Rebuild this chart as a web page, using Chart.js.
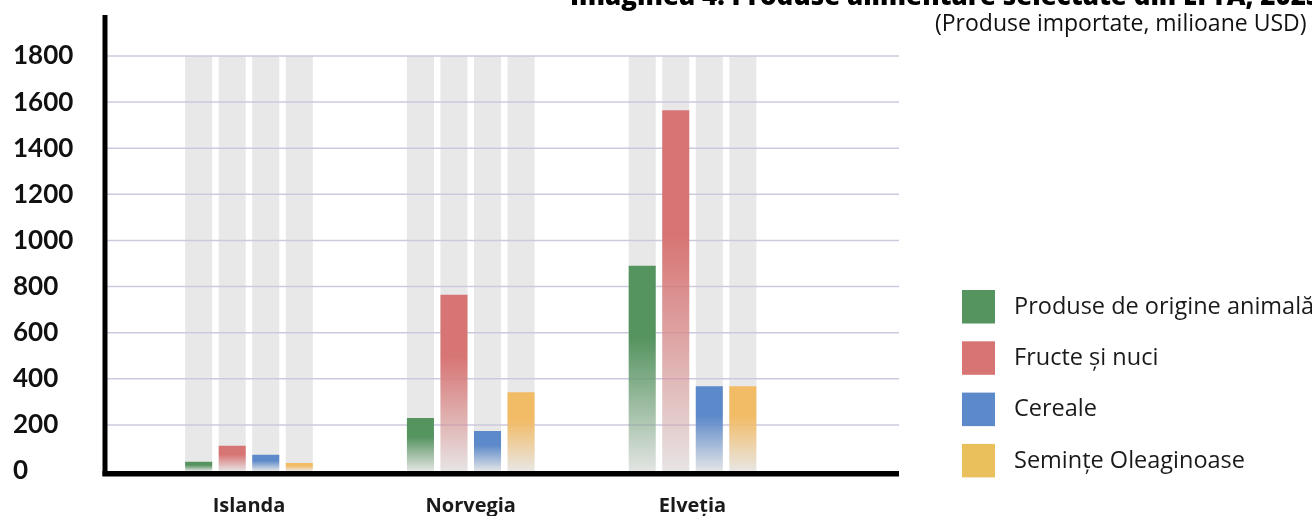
<!DOCTYPE html>
<html>
<head>
<meta charset="utf-8">
<script src="https://cdn.jsdelivr.net/npm/chart.js@4"></script>
<style>
  html, body { margin: 0; padding: 0; background: #fff; }
  #wrap { position: relative; width: 1312px; height: 516px; }
</style>
</head>
<body>
<div id="wrap"><canvas id="chart"></canvas></div>
<script>
// chart data
const countries = ['Islanda', 'Norvegia', 'Elveția'];
const seriesNames = ['Produse de origine animală', 'Fructe și nuci', 'Cereale', 'Semințe Oleaginoase'];
const animalProducts = [40, 230, 890];
const fruitsNuts = [110, 765, 1565];
const cereals = [70, 173, 368];
const oilSeeds = [35, 342, 368];
const yTicks = [0, 200, 400, 600, 800, 1000, 1200, 1400, 1600, 1800];

const titleText = 'Imaginea 4. Produse alimentare selectate din EFTA, 2023';
const subtitleText = '(Produse importate, milioane USD)';

const barColors = ['#55935f', '#d77574', '#5c89c9', '#f2bb66'];
const legendColors = ['#55935f', '#d77574', '#5c89c9', '#e9c05c'];
const FONT = '"Open Sans", "Noto Sans", sans-serif';
const TICK_FONT = 'Lato, "Open Sans", sans-serif';

function hexToRgb(hex) {
  const n = parseInt(hex.slice(1), 16);
  return [(n >> 16) & 255, (n >> 8) & 255, n & 255];
}

// fade each bar from solid at the top to near white at the base
function fadeFill(color) {
  const [r, g, b] = hexToRgb(color);
  return (ctx) => {
    const chart = ctx.chart;
    if (!chart.chartArea || ctx.type !== 'data') return color;
    const y = chart.scales.y;
    const top = y.getPixelForValue(ctx.raw);
    const base = y.getPixelForValue(0);
    if (!isFinite(top) || base - top < 1) return color;
    const grad = chart.ctx.createLinearGradient(0, top, 0, base);
    grad.addColorStop(0, `rgba(${r},${g},${b},1)`);
    grad.addColorStop(0.35, `rgba(${r},${g},${b},1)`);
    grad.addColorStop(1, `rgba(${r},${g},${b},0.04)`);
    return grad;
  };
}

const frame = {
  id: 'frame',
  beforeDatasetsDraw(chart) {
    const ctx = chart.ctx;
    const y = chart.scales.y;
    const top = y.getPixelForValue(yTicks[yTicks.length - 1]);
    const base = y.getPixelForValue(0);
    ctx.save();
    // grey track behind each bar
    ctx.fillStyle = '#e8e8e8';
    chart.data.datasets.forEach((ds, i) => {
      chart.getDatasetMeta(i).data.forEach(el => {
        ctx.fillRect(el.x - el.width / 2, top, el.width, base - top);
      });
    });
    // grid lines
    ctx.strokeStyle = '#cdc9dd';
    ctx.lineWidth = 1.5;
    yTicks.forEach(v => {
      if (v === 0) return;
      const py = y.getPixelForValue(v);
      ctx.beginPath();
      ctx.moveTo(107, py);
      ctx.lineTo(899, py);
      ctx.stroke();
    });
    ctx.restore();
  },
  afterDraw(chart) {
    const ctx = chart.ctx;
    ctx.save();
    // axes
    ctx.fillStyle = '#000';
    ctx.fillRect(102.5, 15, 5, 461);
    ctx.fillRect(102.5, 471, 796.5, 5.5);

    // title and subtitle
    ctx.fillStyle = '#000';
    ctx.textBaseline = 'alphabetic';
    ctx.textAlign = 'left';
    ctx.font = `800 26px ${FONT}`;
    ctx.fillText(titleText, 570, 5);
    ctx.fillStyle = '#111';
    ctx.font = `400 23px ${FONT}`;
    ctx.fillText(subtitleText, 935, 31);

    // legend
    ctx.textBaseline = 'middle';
    ctx.font = `400 23.5px ${FONT}`;
    seriesNames.forEach((name, i) => {
      const by = 290 + i * 51.3;
      ctx.fillStyle = legendColors[i];
      ctx.fillRect(962, by, 33, 33.5);
      ctx.fillStyle = '#1a1a1a';
      ctx.fillText(name, 1014, by + 17);
    });
    ctx.restore();
  }
};

const seriesValues = [animalProducts, fruitsNuts, cereals, oilSeeds];

new Chart(document.getElementById('chart'), {
  type: 'bar',
  data: {
    labels: countries,
    datasets: seriesValues.map((vals, i) => ({
      label: seriesNames[i],
      data: vals,
      backgroundColor: fadeFill(barColors[i]),
      borderWidth: 0,
      categoryPercentage: 0.605,
      barPercentage: 0.806
    }))
  },
  options: {
    responsive: true,
    maintainAspectRatio: false,
    animation: false,
    layout: { padding: { top: 56, left: 13, right: 508.6, bottom: 0 } },
    plugins: {
      legend: { display: false },
      title: { display: false },
      tooltip: { enabled: false }
    },
    scales: {
      x: {
        grid: { display: false, drawTicks: false },
        border: { display: false },
        ticks: {
          color: '#1a1a1a',
          padding: 23,
          font: { family: FONT, size: 20, weight: '700' }
        },
        afterFit(scale) { scale.height = 45; }
      },
      y: {
        min: 0,
        max: 1800,
        grid: { display: false, drawTicks: false },
        border: { display: false },
        afterBuildTicks(scale) { scale.ticks = yTicks.map(v => ({ value: v })); },
        ticks: {
          crossAlign: 'far',
          color: '#111',
          padding: 0,
          font: { family: TICK_FONT, size: 26, weight: '700' },
          callback: (value) => String(value)
        },
        afterFit(scale) { scale.width = 125.1; }
      }
    }
  },
  plugins: [frame]
});
</script>
</body>
</html>
